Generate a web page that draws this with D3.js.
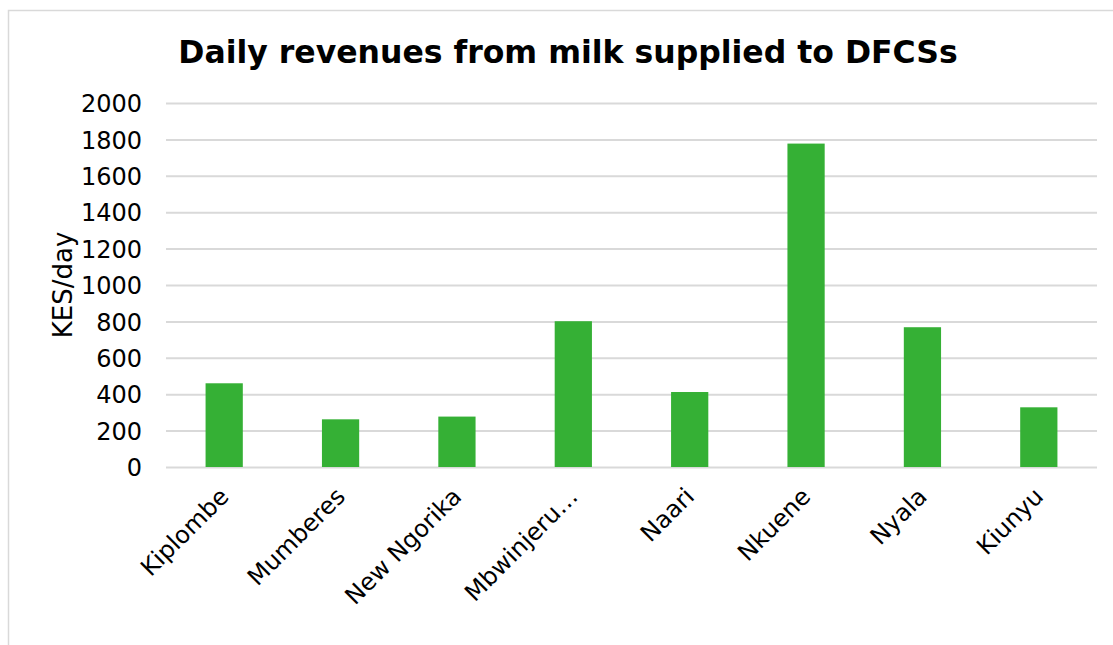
<!DOCTYPE html>
<meta charset="utf-8">
<script src="https://d3js.org/d3.v7.min.js"></script>
<style>
    body {
        margin: 0;
        font-family: "DejaVu Sans", Verdana, sans-serif;
        background: #fff;
    }
    .grid line {
        stroke: #d9d9d9;
        stroke-width: 2;
    }
    .grid path {
        stroke-width: 0;
    }
</style>
<div id="viz_area"></div>
<script>
    var societies = ["Kiplombe", "Mumberes", "New Ngorika", "Mbwinjeru\u2026", "Naari", "Nkuene", "Nyala", "Kiunyu"]
    var revenues = [460, 262, 277, 801, 412, 1777, 768, 328]
    var yTicks = [0, 200, 400, 600, 800, 1000, 1200, 1400, 1600, 1800, 2000]

    var W = 1113, H = 645
    var margin = { left: 166, top: 103, right: 16, bottom: 178 }
    var w = W - margin.left - margin.right
    var h = H - margin.top - margin.bottom

    var svg = d3.select("#viz_area")
        .append("svg")
        .attr("width", W)
        .attr("height", H)

    // chart frame
    svg.append("rect")
        .attr("x", 8.5)
        .attr("y", 10.5)
        .attr("width", W + 20)
        .attr("height", H + 20)
        .attr("fill", "none")
        .attr("stroke", "#d9d9d9")
        .attr("stroke-width", 1.5)

    svg.append("text")
        .attr("x", 568)
        .attr("y", 63)
        .attr("text-anchor", "middle")
        .attr("font-size", "31.5px")
        .attr("font-weight", "bold")
        .attr("fill", "#000")
        .text("Daily revenues from milk supplied to DFCSs")

    var g = svg.append("g")
        .attr("transform", "translate(" + margin.left + "," + margin.top + ")")

    var x = d3.scaleBand()
        .domain(societies)
        .range([0, w])
        .paddingInner(0.68)
        .paddingOuter(0.34)

    var y = d3.scaleLinear()
        .domain([0, 2000])
        .range([h, 0])

    var yAxis = g.append("g")
        .attr("class", "grid")
        .call(d3.axisLeft(y).tickValues(yTicks).tickSize(-w).tickPadding(24)
            .tickFormat(function(d) { return d }))
    yAxis.selectAll("text")
        .attr("font-size", "24px")
        .attr("font-family", "DejaVu Sans, Verdana, sans-serif")
        .attr("fill", "#000")
        .attr("dy", "0.36em")
    yAxis.selectAll("line").attr("x1", 0)

    g.selectAll(".bar")
        .data(revenues)
        .enter().append("rect")
        .attr("class", "bar")
        .attr("x", function(d, i) { return x(societies[i]) })
        .attr("y", function(d) { return y(d) })
        .attr("width", x.bandwidth())
        .attr("height", function(d) { return h - y(d) })
        .attr("fill", "#35b035")

    g.selectAll(".xlab")
        .data(societies)
        .enter().append("text")
        .attr("class", "xlab")
        .attr("text-anchor", "end")
        .attr("font-size", "24px")
        .attr("fill", "#000")
        .attr("transform", function(d) {
            return "translate(" + (x(d) + x.bandwidth() / 2 + 6) + "," + (h + 31) + ") rotate(-45)"
        })
        .text(function(d) { return d })

    svg.append("text")
        .attr("transform", "translate(72," + (margin.top + h / 2) + ") rotate(-90)")
        .attr("text-anchor", "middle")
        .attr("font-size", "26px")
        .attr("fill", "#000")
        .text("KES/day")
</script>
